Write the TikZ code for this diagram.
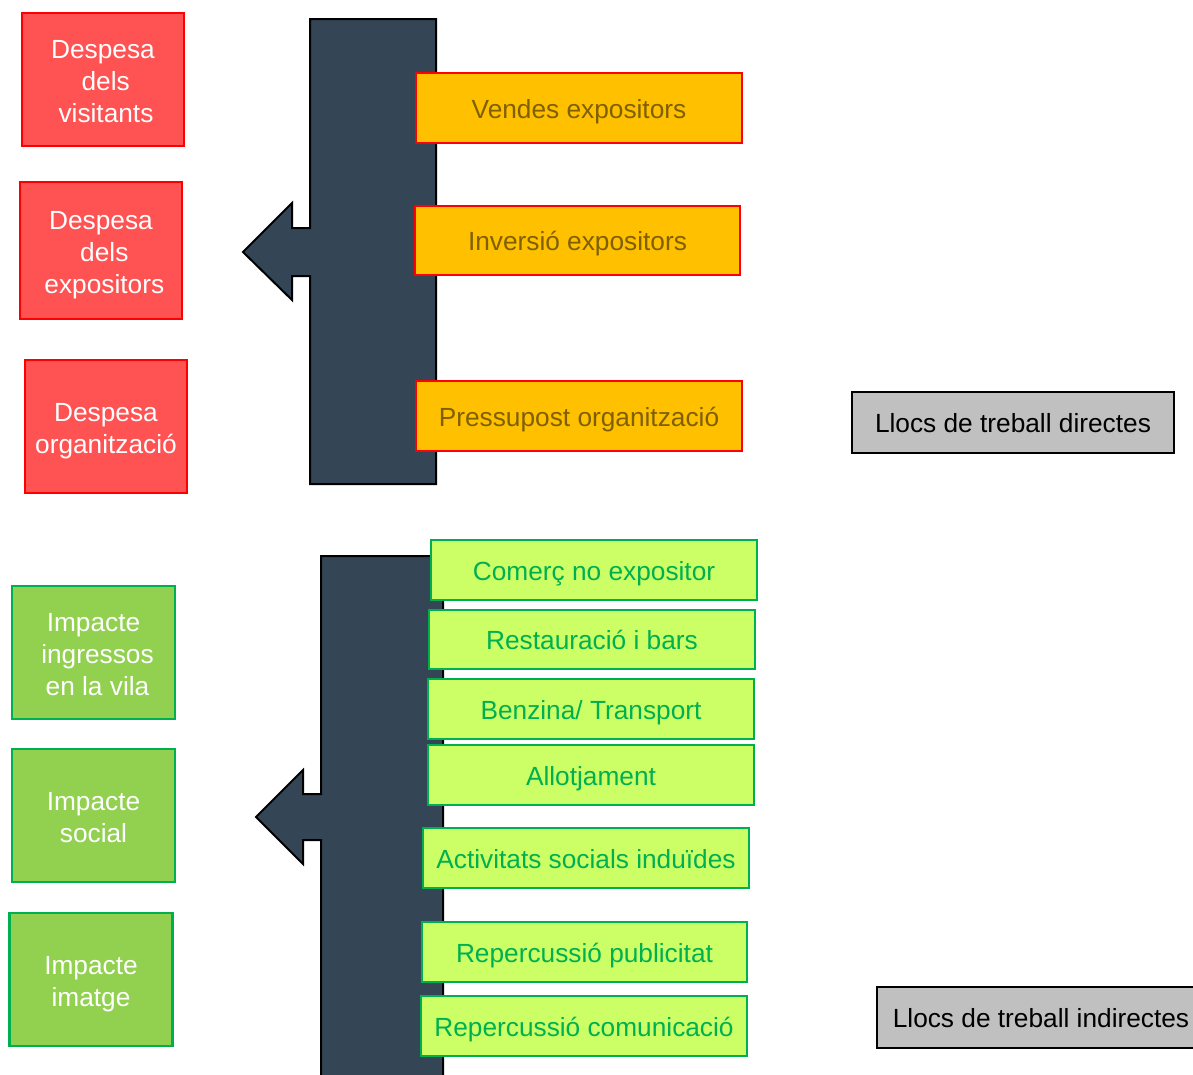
\documentclass[tikz,border=0pt]{standalone}
\usepackage{fontspec}
\setmainfont{Liberation Sans}
\definecolor{barfill}{RGB}{52,70,86}
\definecolor{redfill}{RGB}{255,82,82}
\definecolor{redline}{RGB}{255,0,0}
\definecolor{orfill}{RGB}{255,192,0}
\definecolor{ortext}{RGB}{127,96,0}
\definecolor{gfill}{RGB}{146,208,80}
\definecolor{gline}{RGB}{0,176,80}
\definecolor{lgfill}{RGB}{204,255,102}
\definecolor{grayfill}{RGB}{192,192,192}
\tikzset{
  every node/.style={font=\fontsize{19.7}{24}\selectfont, inner sep=0pt, outer sep=0pt, align=center},
  oneline/.style={text height=15pt, text depth=0pt},
  threelines/.style={text height=64.8pt, text depth=0pt},
  twolines/.style={text height=40.8pt, text depth=0pt},
  barshape/.style={fill=barfill, draw=black, line width=1.5pt, line join=miter},
  redbox/.style={rectangle, fill=redfill, draw=redline, line width=1.6pt, text=white, minimum width=121.5pt},
  orbox/.style={rectangle, oneline, fill=orfill, draw=redline, line width=1.6pt, text=ortext, minimum width=244.5pt, minimum height=52.5pt},
  graybox/.style={rectangle, oneline, fill=grayfill, draw=black, line width=1.6pt, text=black, minimum height=45.75pt},
  gbox/.style={rectangle, fill=gfill, draw=gline, line width=1.6pt, text=white, minimum width=122.25pt, minimum height=99.75pt},
  lgbox/.style={rectangle, oneline, fill=lgfill, draw=gline, line width=1.6pt, text=gline, minimum width=244.5pt, minimum height=45pt},
}
\begin{document}
\begin{tikzpicture}[x=0.75pt, y=-0.75pt]
\useasboundingbox (0,0) rectangle (1193,1075);
\clip (0,0) rectangle (1193,1075);
% top bar with arrow
\draw[barshape] (310,19) -- (436,19) -- (436,484) -- (310,484) -- (310,276) -- (292,276) -- (292,300) -- (243,252) -- (292,203) -- (292,228) -- (310,228) -- cycle;
% bottom bar with arrow
\draw[barshape] (321,556) -- (443,556) -- (443,1090) -- (321,1090) -- (321,840) -- (303,840) -- (303,864) -- (256,817) -- (303,770) -- (303,794) -- (321,794) -- cycle;
% red boxes
\node[redbox, threelines, minimum height=99.75pt] (r1) at (103,79.5) {Despesa\\\hspace*{4pt}dels\\\hspace*{4.5pt}visitants};
\node[redbox, threelines, minimum height=102.75pt] (r2) at (101,250.5) {Despesa\\\hspace*{5pt}dels\\\hspace*{5pt}expositors};
\node[redbox, twolines, minimum height=99.75pt] (r3) at (106,426.5) {Despesa\\organització};
% orange boxes
\node[orbox] (o1) at (579,108) {Vendes expositors};
\node[orbox, minimum width=243.75pt, minimum height=51.75pt] (o2) at (577.5,240.5) {Inversió expositors};
\node[orbox] (o3) at (579,416) {Pressupost organització};
% gray boxes
\node[graybox, minimum width=241.5pt] (d1) at (1013,422.5) {Llocs de treball directes};
\node[graybox, minimum width=246pt] (d2) at (1041,1017.5) {Llocs de treball indirectes};
% green left boxes
\node[gbox, threelines] (g1) at (93.5,652.5) {Impacte\\\hspace*{6pt}ingressos\\\hspace*{6pt}en la vila};
\node[gbox, twolines] (g2) at (93.5,815.5) {Impacte\\social};
\node[gbox, twolines] (g3) at (91,979.5) {Impacte\\imatge};
% light green boxes
\node[lgbox] (c1) at (594,570) {Comerç no expositor};
\node[lgbox, minimum height=44.25pt] (c2) at (592,639.5) {Restauració i bars};
\node[lgbox] (c3) at (591,709) {Benzina/ Transport};
\node[lgbox] (c4) at (591,775) {Allotjament};
\node[lgbox] (c5) at (586,858) {Activitats socials induïdes};
\node[lgbox, minimum width=243.75pt] (c6) at (584.5,952) {Repercussió publicitat};
\node[lgbox] (c7) at (584,1026) {Repercussió comunicació};
\end{tikzpicture}
\end{document}
